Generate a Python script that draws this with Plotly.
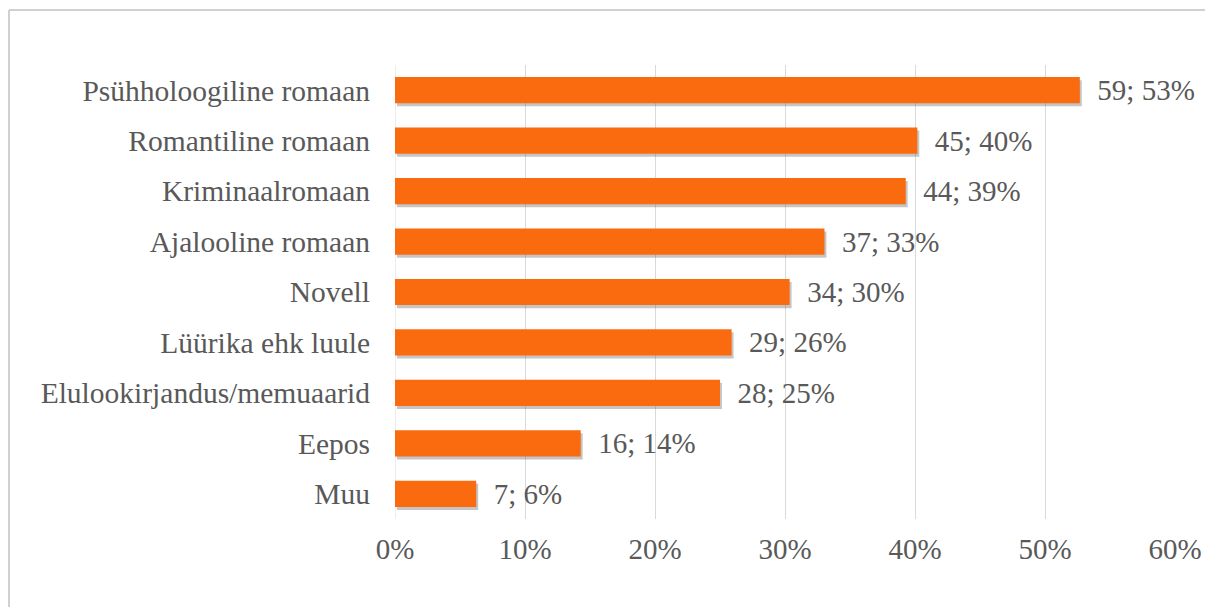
import plotly.graph_objects as go

categories = ["Psühholoogiline romaan", "Romantiline romaan", "Kriminaalromaan",
              "Ajalooline romaan", "Novell", "Lüürika ehk luule",
              "Elulookirjandus/memuaarid", "Eepos", "Muu"]
counts = [59, 45, 44, 37, 34, 29, 28, 16, 7]
total_respondents = 112
shares = [c / total_respondents for c in counts]
labels = [f"  {c}; {round(s * 100)}%" for c, s in zip(counts, shares)]
tick_vals = [0, 0.1, 0.2, 0.3, 0.4, 0.5, 0.6]
tick_text = ["0%", "10%", "20%", "30%", "40%", "50%", "60%"]

FONT = "Liberation Serif, Times New Roman, serif"
GREY = "#595959"
BW = 0.52

fig = go.Figure()
# subtle shadow
fig.add_trace(go.Bar(
    y=categories, x=shares, orientation="h", width=BW, offset=-BW / 2 + 0.06,
    base=0.0015, marker=dict(color="rgba(90,90,90,0.35)", line=dict(width=0)),
    hoverinfo="skip", showlegend=False))
fig.add_trace(go.Bar(
    y=categories, x=shares, orientation="h", width=BW, offset=-BW / 2,
    marker=dict(color="#FA6A0F", line=dict(width=0)),
    text=labels, textposition="outside", cliponaxis=False, constraintext="none",
    textfont=dict(family=FONT, size=29, color=GREY),
    showlegend=False))

W, H = 1205, 607
L, R, T, B = 395, 30, 65, 88
pw, ph = W - L - R, H - T - B
bx = (9 - L) / pw
by = 1 + (T - 10) / ph

fig.update_layout(
    width=W, height=H, barmode="overlay",
    margin=dict(l=L, r=R, t=T, b=B, autoexpand=False),
    plot_bgcolor="white", paper_bgcolor="white",
    font=dict(family=FONT, size=30, color=GREY),
    xaxis=dict(range=[0, 0.6], tickvals=tick_vals, ticktext=tick_text,
               showgrid=True, gridcolor="#D9D9D9", gridwidth=1, automargin=False,
               zeroline=False, showline=False, ticklabelstandoff=10,
               tickfont=dict(family=FONT, size=29, color=GREY)),
    yaxis=dict(autorange="reversed", showgrid=False, zeroline=False, automargin=False,
               showline=False, ticklabelstandoff=24,
               tickfont=dict(family=FONT, size=29.5, color=GREY)),
    shapes=[
        dict(type="line", xref="paper", yref="paper", x0=bx, x1=bx,
             y0=-1, y1=by, line=dict(color="#D0D0D0", width=2)),
        dict(type="line", xref="paper", yref="paper", x0=bx, x1=1.2,
             y0=by, y1=by, line=dict(color="#D0D0D0", width=2)),
        dict(type="line", xref="x", yref="paper", x0=0, x1=0,
             y0=0, y1=1, line=dict(color="#D9D9D9", width=1), layer="below"),
    ],
)

fig.write_html("out.html", config={"displayModeBar": False},
               post_script="document.body.style.margin='0';document.body.style.overflow='hidden';")
